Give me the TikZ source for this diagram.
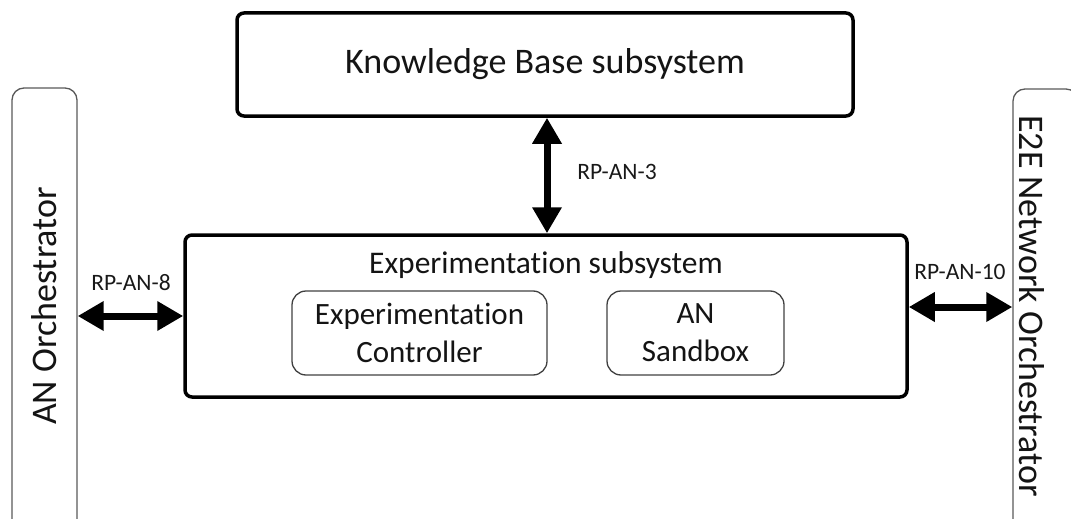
\documentclass[tikz,border=0pt]{standalone}
\usepackage{fontspec}
\setmainfont{Carlito}[Ligatures={NoCommon,NoContextual}]
\usetikzlibrary{arrows.meta}
\begin{document}
\begin{tikzpicture}[x=1pt,y=-1pt]
\tikzset{
  heavybox/.style={draw=black, line width=3.5pt, rounded corners=7pt},
  softbox/.style={draw=black!75, line width=1.3pt, rounded corners=14pt,
    align=center, font=\fontsize{31}{38}\selectfont, text=black!92},
  sidebox/.style={draw=black!65, line width=1.3pt, rounded corners=12pt,
    minimum width=65pt, minimum height=480pt},
  sidetext/.style={font=\fontsize{36}{40}\selectfont, text=black!92},
  linkarrow/.style={line width=7pt,
    {Triangle[length=26pt,width=28pt]}-{Triangle[length=26pt,width=28pt]}},
  linklabel/.style={font=\fontsize{23.5}{27}\selectfont, text=black!90},
}
\useasboundingbox (0,0) rectangle (1071,519);
\clip (0,0) rectangle (1071,519);

% outer orchestrators (run off the bottom edge)
\node[sidebox] (anorch) at (44.5,328) {};
\node[sidetext, rotate=90] (anorchtext) at (44,306) {AN Orchestrator};
\node[sidebox] (e2e) at (1045.5,329) {};
\node[sidetext, rotate=-90] (e2etext) at (1032,306) {E2E Network Orchestrator};

% knowledge base
\node[heavybox, minimum width=616pt, minimum height=103pt,
  font=\fontsize{36}{40}\selectfont, text=black!92] (kb) at (545,64.5)
  {Knowledge Base subsystem};

% experimentation subsystem and its parts
\node[heavybox, minimum width=722pt, minimum height=162pt] (exp) at (546,316) {};
\node[font=\fontsize{31.5}{36}\selectfont, text=black!92] (exptitle) at (546,265)
  {Experimentation subsystem};
\node[softbox, minimum width=255pt, minimum height=84pt] (ctrl) at (419.5,333)
  {Experimentation\\Controller};
\node[softbox, minimum width=177pt, minimum height=84pt] (sandbox) at (695.5,333)
  {AN\\Sandbox};

% reference points
\coordinate (kbx) at (547,0);
\coordinate (tenrow) at (0,307);
\draw[linkarrow] (kb.south -| kbx) -- (exp.north -| kbx);
\draw[linkarrow] (anorch.east |- exp.west) -- (exp.west);
\draw[linkarrow] (exp.east |- tenrow) -- (e2e.west |- tenrow);

\node[linklabel] (l3) at (617,172) {RP-AN-3};
\node[linklabel] (l8) at (131,283) {RP-AN-8};
\node[linklabel] (l10) at (960,272) {RP-AN-10};
\end{tikzpicture}
\end{document}
